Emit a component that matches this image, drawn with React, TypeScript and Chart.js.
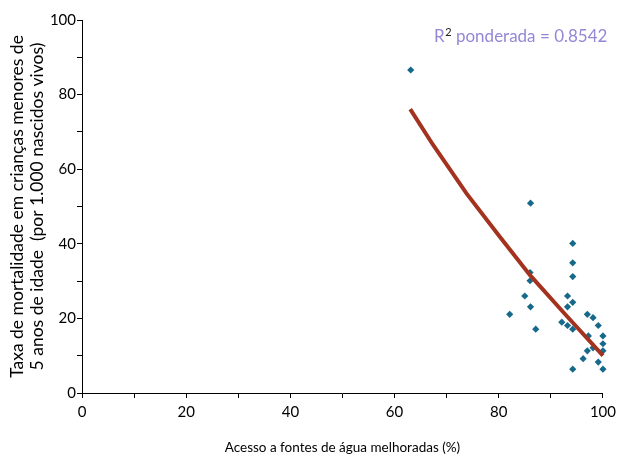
import React, { useEffect, useRef } from "react";
import { Chart, registerables } from "chart.js";

Chart.register(...registerables);

// Scatter data: access to improved water (%) vs under-5 mortality
const accessX = [63.1, 86.1, 94.2, 94.2, 94.2, 86.0, 86.0, 85.0, 86.1, 82.1, 87.1, 93.2, 93.2, 94.2, 92.1, 93.2, 94.2, 97.0, 98.1, 99.1, 100.0, 97.2, 100.0, 97.0, 98.1, 100.0, 96.2, 99.1, 94.2, 100.0];
const mortalityY = [86.6, 50.9, 40.1, 34.9, 31.2, 32.3, 30.1, 26.0, 23.1, 21.1, 17.1, 26.0, 23.1, 24.3, 19.0, 18.1, 17.1, 21.1, 20.2, 18.1, 15.3, 15.3, 13.2, 11.3, 12.1, 11.3, 9.2, 8.3, 6.4, 6.4];

// Weighted fit curve
const fitX = [63.0, 67.4, 73.8, 80.2, 86.0, 93.0, 100.0];
const fitY = [76.1, 66.5, 53.5, 41.9, 31.6, 20.7, 10.0];

const xTitle = "Acesso a fontes de água melhoradas (%)";
const yTitle = ["Taxa de mortalidade em crianças menores de", "5 anos de idade  (por 1.000 nascidos vivos)"];
const r2Label = "0.8542";

const FONT = "Lato, 'DejaVu Sans', sans-serif";

export default function App() {
  const ref = useRef<HTMLCanvasElement | null>(null);
  useEffect(() => {
    const canvas = ref.current;
    if (!canvas) return;
    const r2Plugin = {
      id: "r2text",
      afterDraw(chart: any) {
        const ctx = chart.ctx;
        const area = chart.chartArea;
        ctx.save();
        ctx.textBaseline = "alphabetic";
        const rest = " ponderada = " + r2Label;
        ctx.font = `17px ${FONT}`;
        const wR = ctx.measureText("R").width;
        const wRest = ctx.measureText(rest).width;
        ctx.font = `11px ${FONT}`;
        const w2 = ctx.measureText("2").width;
        const right = area.right + 4;
        const y = 42;
        let x = right - wRest - w2 - wR;
        ctx.font = `17px ${FONT}`;
        ctx.fillStyle = "#9388d6";
        ctx.fillText("R", x, y);
        x += wR + 0.5;
        ctx.font = `11px ${FONT}`;
        ctx.fillStyle = "#222222";
        ctx.fillText("2", x, y - 6);
        x += w2;
        ctx.font = `17px ${FONT}`;
        ctx.fillStyle = "#9388d6";
        ctx.fillText(rest, x, y);
        ctx.restore();
      },
    };
    const chart = new Chart(canvas, {
      type: "scatter",
      data: {
        datasets: [
          {
            type: "line",
            data: fitX.map((x, i) => ({ x, y: fitY[i] })),
            borderColor: "#a3321f",
            borderWidth: 4,
            pointRadius: 0,
            tension: 0,
            fill: false,
            clip: false,
            order: 1,
          } as any,
          {
            data: accessX.map((x, i) => ({ x, y: mortalityY[i] })),
            backgroundColor: "#17698c",
            borderColor: "#17698c",
            borderWidth: 0,
            pointStyle: "rectRot",
            pointRadius: 3.6,
            clip: false,
            order: 2,
          },
        ],
      },
      options: {
        animation: false,
        responsive: false,
        maintainAspectRatio: false,
        layout: { padding: { top: 20, right: 18, left: 8, bottom: 0 } },
        plugins: { legend: { display: false }, tooltip: { enabled: false } },
        scales: {
          x: {
            type: "linear",
            min: 0,
            max: 100,
            afterFit: (s: any) => {
              s.height = 63;
            },
            ticks: {
              stepSize: 10,
              color: "#000",
              font: { family: FONT, size: 15 },
              padding: 5,
              maxRotation: 0,
              autoSkip: false,
              callback: (v: any) => (Number(v) % 20 === 0 ? String(v) : ""),
            },
            grid: { display: true, drawOnChartArea: false, drawTicks: true, tickLength: 5, color: "#000", lineWidth: 1 },
            border: { display: true, color: "#000", width: 1 },
            title: { display: true, text: xTitle, color: "#000", font: { family: FONT, size: 13.5 }, padding: { top: 18, bottom: 0 } },
          },
          y: {
            type: "linear",
            min: 0,
            max: 100,
            afterFit: (s: any) => {
              s.width = 74;
            },
            ticks: {
              stepSize: 10,
              color: "#000",
              font: { family: FONT, size: 15 },
              padding: 1,
              autoSkip: false,
              callback: (v: any) => (Number(v) % 20 === 0 ? String(v) : ""),
            },
            grid: { display: true, drawOnChartArea: false, drawTicks: true, tickLength: 5, color: "#000", lineWidth: 1 },
            border: { display: true, color: "#000", width: 1 },
            title: { display: true, text: yTitle, color: "#000", font: { family: FONT, size: 17.5, lineHeight: 1.1 }, padding: { top: 0, bottom: 0 } },
          },
        },
      },
      plugins: [r2Plugin],
    } as any);
    return () => chart.destroy();
  }, []);
  return (
    <div style={{ position: "fixed", left: 0, top: 0, width: 621, height: 456, background: "#fff" }}>
      <canvas ref={ref} width={621} height={456} style={{ width: 621, height: 456 }} />
    </div>
  );
}
